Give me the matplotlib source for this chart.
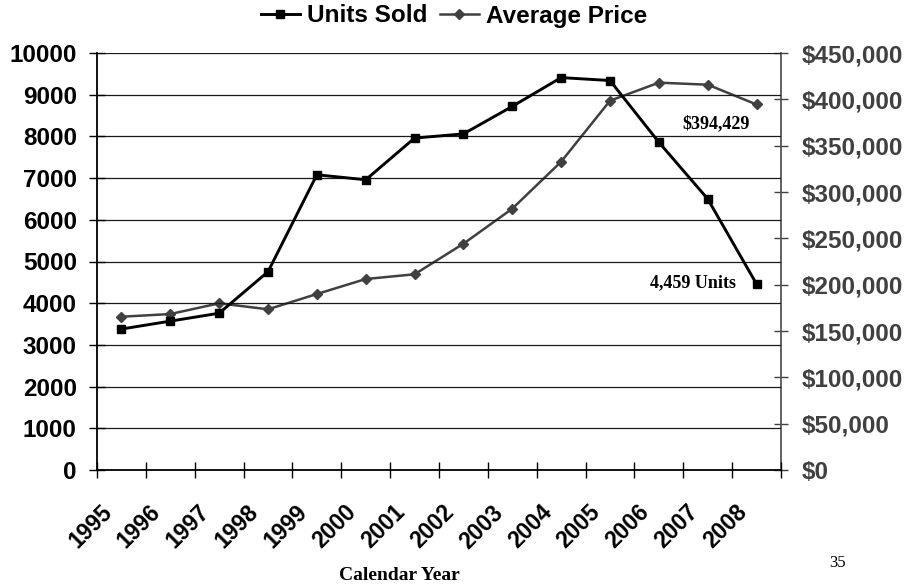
import numpy as np
import matplotlib
matplotlib.use('Agg')
import matplotlib.pyplot as plt
import matplotlib.transforms as mtransforms
from matplotlib.ticker import FuncFormatter

years = ['1995', '1996', '1997', '1998', '1999', '2000', '2001',
         '2002', '2003', '2004', '2005', '2006', '2007', '2008']
units_sold = [3380, 3570, 3760, 4755, 7080, 6960, 7960,
              8060, 8720, 9410, 9340, 7860, 6500, 4459]
avg_price = [165400, 168300, 179900, 173400, 189900, 206100, 211200,
             244200, 282000, 332700, 398500, 418000, 415800, 394429]

plt.rcParams['font.family'] = ['Liberation Sans', 'DejaVu Sans']

fig = plt.figure(figsize=(9.08, 5.84), dpi=100)
ax = fig.add_axes([97/908, 1-470/584, (781-97)/908, (470-53)/584])
ax2 = ax.twinx()

x = np.arange(len(years)) + 0.5
l1, = ax.plot(x, units_sold, color='black', lw=2.1, marker='s', ms=6.3,
              zorder=4, label='Units Sold')
l2, = ax2.plot(x, avg_price, color='#404040', lw=1.8, marker='D', ms=5.5,
               label='Average Price')
ax.set_zorder(ax2.get_zorder() + 1)
ax.patch.set_visible(False)

# left axis
ax.set_xlim(0, len(years))
ax.set_ylim(0, 10000)
ax.set_yticks(np.arange(0, 10001, 1000))
ax.yaxis.grid(True, color='#1a1a1a', lw=0.9)
ax.tick_params(axis='y', direction='inout', length=11, width=1, labelsize=17.5, pad=9)
for t in ax.get_yticklabels():
    t.set_fontweight('bold')

# x axis: boundary ticks, labels in the middle
ax.set_xticks(np.arange(0, len(years) + 1))
ax.set_xticklabels([])
ax.set_xticks(x, minor=True)
ax.set_xticklabels(years, minor=True, rotation=45, ha='right', va='center',
                   rotation_mode='anchor', fontsize=16.5, fontweight='bold')
ax.tick_params(axis='x', which='major', direction='inout', length=11, width=1)
ax.tick_params(axis='x', which='minor', length=0, pad=28)
offset = mtransforms.ScaledTranslation(-13/100, 0, fig.dpi_scale_trans)
for t in ax.xaxis.get_minorticklabels():
    t.set_transform(t.get_transform() + offset)

for s in ['top', 'right']:
    ax.spines[s].set_visible(False)
ax.spines['left'].set_linewidth(1.3)
ax.spines['bottom'].set_linewidth(1.3)

# right axis
ax2.set_ylim(0, 450000)
ax2.set_yticks(np.arange(0, 450001, 50000))
ax2.yaxis.set_major_formatter(FuncFormatter(lambda v, p: '${:,.0f}'.format(v)))
ax2.tick_params(axis='y', direction='inout', length=10, width=1, colors='#404040',
                labelsize=17.5, pad=10)
for t in ax2.get_yticklabels():
    t.set_fontweight('bold')
for s in ['top', 'left', 'bottom']:
    ax2.spines[s].set_visible(False)
ax2.spines['right'].set_color('#555555')
ax2.spines['right'].set_linewidth(1.3)

# annotations
ax2.annotate('${:,}'.format(avg_price[-1]), (x[-1], avg_price[-1]),
             xytext=(-41, -19), textcoords='offset pixels', ha='center', va='center',
             family=['Liberation Serif'], fontweight='bold', fontsize=13)
ax.annotate('{:,} Units'.format(units_sold[-1]), (x[-1], units_sold[-1]),
            xytext=(-64, 1), textcoords='offset pixels', ha='center', va='center',
            family=['Liberation Serif'], fontweight='bold', fontsize=13)

fig.legend(handles=[l1, l2], loc='center', bbox_to_anchor=(454/908, 1-16/584), ncol=2,
           frameon=False, prop={'weight': 'bold', 'size': 17.5}, handlelength=1.6,
           handletextpad=0.3, columnspacing=0.5)

fig.text(399/908, 1-575/584, 'Calendar Year', ha='center', va='center',
         family=['Liberation Serif'], fontweight='bold', fontsize=14)
fig.text(838/908, 1-563/584, '35', ha='center', va='center',
         family=['Liberation Serif'], fontsize=12)

fig.savefig('out.png', dpi=100)
